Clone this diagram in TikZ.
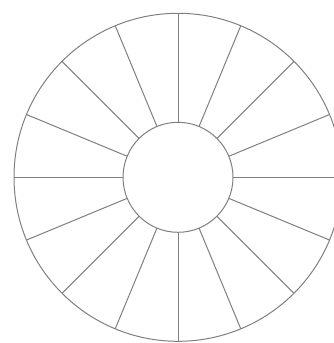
\documentclass[tikz,border=0pt]{standalone}
\usetikzlibrary{calc}
\begin{document}
\begin{tikzpicture}[x=1pt,y=1pt,
  ring/.style={draw=black!50, line width=1pt},
  spoke/.style={draw=black!50, line width=1pt}]
\useasboundingbox (0,0) rectangle (334,343);
\clip (0,0) rectangle (334,343);
\fill[white] (0,0) rectangle (334,343);
\coordinate (c) at (178,165.7);
\draw[ring] (c) circle[radius=164];
\draw[ring] (c) circle[radius=55];
\foreach \a in {0,22.5,...,337.5}{
  \draw[spoke] ($(c)+(\a:55)$) -- ($(c)+(\a:164)$);
}
\end{tikzpicture}
\end{document}
